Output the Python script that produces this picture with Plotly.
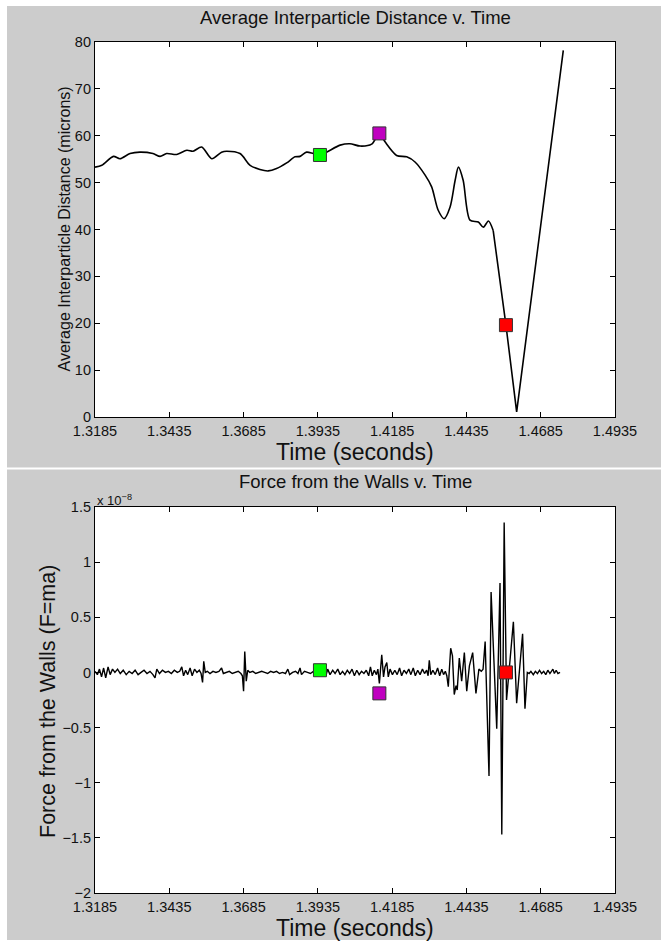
import plotly.graph_objects as go

# ---------------- data ----------------
# Top panel: average interparticle distance (microns) vs time (s)
dist_time = [1.3185, 1.3208, 1.3247, 1.3269, 1.3303, 1.3336, 1.3380, 1.3404, 1.3426, 1.3460,
             1.3494, 1.3515, 1.3544, 1.3578, 1.3611, 1.3628, 1.3673, 1.3707, 1.3740, 1.3768,
             1.3796, 1.3830, 1.3858, 1.3875, 1.3897, 1.3920, 1.3942, 1.4010, 1.4043, 1.4077,
             1.4116, 1.4142, 1.4161, 1.4200, 1.4234, 1.4262, 1.4296, 1.4318, 1.4340, 1.4360,
             1.4380, 1.4397, 1.4408, 1.4424, 1.4447, 1.4475, 1.4492, 1.4509, 1.4525,
             1.4568, 1.4604, 1.4761]
dist_value = [53.3, 53.7, 55.6, 55.1, 56.2, 56.5, 56.2, 55.6, 56.2, 56.0,
              56.9, 56.7, 57.6, 55.1, 56.5, 56.7, 56.2, 53.7, 52.8, 52.5,
              53.0, 54.2, 55.5, 55.6, 56.5, 56.2, 55.9, 58.0, 58.3, 57.8,
              58.2, 60.5, 58.7, 55.8, 55.5, 54.4, 51.6, 49.1, 44.1, 42.3,
              44.8, 50.5, 53.3, 50.5, 42.0, 41.6, 40.5, 41.8, 39.8,
              19.6, 1.1, 78.2]
dist_linear_from = 48  # index where the collapse (straight V) begins

# Bottom panel: force from the walls (units of 1e-8) vs time (s)
force_time = [1.3185, 1.3193, 1.3200, 1.3207, 1.3214, 1.3221, 1.3229, 1.3236, 1.3244, 1.3252,
              1.3261, 1.3270, 1.3280, 1.3290, 1.3300, 1.3310, 1.3320, 1.3330, 1.3340, 1.3350,
              1.3360, 1.3370, 1.3380, 1.3387, 1.3393, 1.3402, 1.3412, 1.3422, 1.3432, 1.3442,
              1.3452, 1.3462, 1.3470, 1.3477, 1.3483, 1.3490, 1.3497, 1.3505, 1.3512, 1.3520,
              1.3528, 1.3536, 1.3542, 1.3547, 1.3551, 1.3556, 1.3563, 1.3572, 1.3582, 1.3592,
              1.3602, 1.3611, 1.3617, 1.3627, 1.3637, 1.3647, 1.3657, 1.3667, 1.3676, 1.3681,
              1.3685, 1.3689, 1.3694, 1.3699, 1.3706, 1.3716, 1.3726, 1.3736, 1.3746, 1.3756,
              1.3766, 1.3776, 1.3786, 1.3796, 1.3806, 1.3816, 1.3826, 1.3834, 1.3840, 1.3850,
              1.3860, 1.3868, 1.3875, 1.3880, 1.3890, 1.3900, 1.3910, 1.3920, 1.3930, 1.3942,
              1.3950, 1.3956, 1.3962, 1.3968, 1.3976, 1.3985, 1.3993, 1.4002, 1.4010, 1.4018,
              1.4026, 1.4034, 1.4042, 1.4050, 1.4058, 1.4066, 1.4074, 1.4082, 1.4090, 1.4098,
              1.4106, 1.4112, 1.4118, 1.4125, 1.4132, 1.4137, 1.4142, 1.4150, 1.4156, 1.4161,
              1.4167, 1.4172, 1.4178, 1.4186, 1.4194, 1.4202, 1.4210, 1.4217, 1.4225, 1.4233,
              1.4241, 1.4248, 1.4256, 1.4263, 1.4271, 1.4279, 1.4287, 1.4294, 1.4301, 1.4306,
              1.4310, 1.4315, 1.4322, 1.4330, 1.4338, 1.4345, 1.4352, 1.4358, 1.4364, 1.4369,
              1.4374, 1.4382, 1.4388, 1.4394, 1.4400, 1.4404, 1.4411, 1.4419, 1.4428, 1.4436,
              1.4445, 1.4456, 1.4467, 1.4477, 1.4485, 1.4491, 1.4498, 1.4511, 1.4518, 1.4537,
              1.4548, 1.4554, 1.4562, 1.4570, 1.4580, 1.4593, 1.4604, 1.4612, 1.4624, 1.4632,
              1.4640, 1.4646, 1.4652, 1.4660, 1.4667, 1.4674, 1.4681, 1.4688, 1.4695, 1.4702,
              1.4709, 1.4716, 1.4721, 1.4726, 1.4731, 1.4737, 1.4743, 1.4750]
force_value = [0.01, -0.02, 0.03, -0.04, 0.04, -0.05, 0.05, -0.02, 0.03, 0.00,
               0.03, -0.01, 0.02, -0.02, 0.01, -0.01, 0.02, -0.02, 0.00, 0.02,
               -0.01, 0.01, -0.02, -0.05, 0.03, -0.01, 0.02, 0.00, 0.01, -0.01,
               0.02, 0.00, 0.01, 0.05, -0.03, 0.02, -0.02, 0.04, -0.03, 0.03,
               0.00, 0.02, -0.01, -0.09, 0.10, 0.00, 0.01, -0.01, 0.01, 0.00,
               0.01, 0.04, -0.01, 0.00, 0.01, -0.01, 0.00, 0.01, -0.01, -0.03,
               -0.17, 0.19, -0.08, 0.02, 0.00, 0.01, -0.01, 0.00, 0.01, 0.00,
               -0.01, 0.01, 0.00, 0.01, -0.01, 0.00, -0.01, 0.03, -0.02, 0.00,
               0.01, -0.01, 0.04, -0.02, 0.01, 0.00, -0.01, 0.01, -0.01, 0.02,
               -0.02, 0.04, -0.03, 0.03, -0.02, 0.02, -0.01, 0.03, -0.02, 0.01,
               -0.02, 0.02, -0.01, 0.03, -0.03, 0.02, -0.02, 0.01, -0.01, 0.02,
               -0.03, 0.05, -0.03, 0.02, -0.02, 0.03, -0.10, 0.16, -0.04, 0.05,
               0.09, -0.04, 0.03, -0.02, 0.02, -0.02, 0.04, -0.03, 0.02, -0.01,
               0.03, -0.02, 0.04, -0.03, 0.02, -0.02, 0.03, -0.01, 0.02, -0.03,
               0.11, -0.02, 0.02, -0.02, 0.04, -0.03, 0.03, -0.02, 0.01, -0.03,
               -0.13, 0.22, 0.15, -0.20, -0.12, -0.16, 0.13, -0.08, 0.18, -0.17,
               0.06, 0.18, -0.19, 0.03, 0.01, 0.03, 0.28, -0.94, 0.73, -0.51,
               0.81, -1.47, 1.36, -0.25, 0.05, 0.46, -0.28, 0.00, 0.35, -0.33,
               0.00, -0.01, 0.01, -0.02, 0.01, -0.01, 0.02, -0.01, 0.01, -0.02,
               0.02, -0.01, 0.01, 0.03, -0.01, 0.02, -0.01, 0.00]

# Highlighted instants (same times in both panels)
marker_time = [1.3942, 1.4142, 1.4568]
marker_dist = [55.9, 60.5, 19.6]
marker_force = [0.02, -0.19, 0.00]
marker_colors = ["#00ff00", "#c000c0", "#ff0000"]

# Axes ticks
x_ticks = [1.3185, 1.3435, 1.3685, 1.3935, 1.4185, 1.4435, 1.4685, 1.4935]
x_ticklabels = ["1.3185", "1.3435", "1.3685", "1.3935", "1.4185", "1.4435", "1.4685", "1.4935"]
dist_ticks = [0, 10, 20, 30, 40, 50, 60, 70, 80]
force_ticks = [-2, -1.5, -1, -0.5, 0, 0.5, 1, 1.5]
force_ticklabels = ["\u22122", "\u22121.5", "\u22121", "\u22120.5", "0", "0.5", "1", "1.5"]

# ---------------- layout geometry (pixels) ----------------
W, H = 663, 943
L, R, T, B = 95, 48, 42, 50
PW, PH = W - L - R, H - T - B


def px(X):
    return (X - L) / PW


def py(Y):
    return (H - B - Y) / PH


FONT = "Liberation Sans, Arial, Helvetica, sans-serif"
TXT = "#111111"
GRAY = "#cccccc"
BOT_TOP = 507

fig = go.Figure()

# top panel line (smooth part + straight collapse)
fig.add_trace(go.Scatter(x=dist_time[:dist_linear_from + 1], y=dist_value[:dist_linear_from + 1],
                         mode="lines", line=dict(color="black", width=1.6, shape="spline", smoothing=0.8),
                         xaxis="x", yaxis="y", showlegend=False, hoverinfo="skip"))
fig.add_trace(go.Scatter(x=dist_time[dist_linear_from:], y=dist_value[dist_linear_from:],
                         mode="lines", line=dict(color="black", width=1.6),
                         xaxis="x", yaxis="y", showlegend=False, hoverinfo="skip"))
fig.add_trace(go.Scatter(x=marker_time, y=marker_dist, mode="markers",
                         marker=dict(symbol="square", size=13, color=marker_colors,
                                     line=dict(color="#333333", width=1)),
                         xaxis="x", yaxis="y", showlegend=False))

# bottom panel
fig.add_trace(go.Scatter(x=force_time, y=force_value, mode="lines",
                         line=dict(color="black", width=1.4),
                         xaxis="x2", yaxis="y2", showlegend=False, hoverinfo="skip"))
fig.add_trace(go.Scatter(x=marker_time, y=marker_force, mode="markers",
                         marker=dict(symbol="square", size=13, color=marker_colors,
                                     line=dict(color="#333333", width=1)),
                         xaxis="x2", yaxis="y2", showlegend=False))

axis_common = dict(showline=True, linecolor="black", linewidth=1.2, mirror="ticks",
                   ticks="inside", ticklen=5, tickcolor="black", tickwidth=1,
                   showgrid=False, zeroline=False,
                   tickfont=dict(family=FONT, size=14.5, color=TXT))

fig.update_layout(
    width=W, height=H, autosize=False,
    margin=dict(l=L, r=R, t=T, b=B, pad=0),
    paper_bgcolor=GRAY, plot_bgcolor="white",
    xaxis=dict(domain=[0, 1], range=[x_ticks[0], x_ticks[-1]], anchor="y",
               tickvals=x_ticks, ticktext=x_ticklabels, **axis_common),
    yaxis=dict(domain=[py(417), 1], range=[dist_ticks[0], dist_ticks[-1]], anchor="x",
               tickvals=dist_ticks, **axis_common),
    xaxis2=dict(domain=[0, 1], range=[x_ticks[0], x_ticks[-1]], anchor="y2",
                tickvals=x_ticks, ticktext=x_ticklabels, **axis_common),
    yaxis2=dict(domain=[0, py(BOT_TOP)], range=[force_ticks[0], force_ticks[-1]], anchor="x2",
                tickvals=force_ticks, ticktext=force_ticklabels, **axis_common),
)

ann = [
    dict(text="Average Interparticle Distance v. Time", x=0.5, y=py(18), size=18.5),
    dict(text="Time (seconds)", x=0.5, y=py(452), size=23),
    dict(text="Average Interparticle Distance (microns)", x=px(64), y=(py(42) + py(417)) / 2,
         size=16, angle=-90),
    dict(text="Force from the Walls v. Time", x=0.5, y=py(481), size=18.5),
    dict(text="Time (seconds)", x=0.5, y=py(928), size=23),
    dict(text="Force from the Walls (F=ma)", x=px(48), y=py(702),
         size=21.5, angle=-90),
]
for a in ann:
    fig.add_annotation(text=a["text"], x=a["x"], y=a["y"], xref="paper", yref="paper",
                       xanchor="center", yanchor="middle", showarrow=False,
                       textangle=a.get("angle", 0),
                       font=dict(family=FONT, size=a["size"], color=TXT))

fig.add_annotation(text="x 10<sup>\u22128</sup>", x=0, y=py(510), xref="paper", yref="paper",
                   xanchor="left", yanchor="bottom", showarrow=False,
                   font=dict(family=FONT, size=13, color=TXT))

# white frame and separator between the two panels
strips = [
    (0, 0, 7, H),          # left
    (661, 0, W, H),        # right
    (0, 0, W, 6),          # top
    (0, 940, W, H),        # bottom
    (0, 467.5, W, 469.5),  # separator
]
for (x0, y0, x1, y1) in strips:
    fig.add_shape(type="rect", xref="paper", yref="paper",
                  x0=px(x0), x1=px(x1), y0=py(y1), y1=py(y0),
                  line=dict(width=0), fillcolor="white", layer="above")

fig.write_html("out.html", config={"displayModeBar": False},
               post_script="document.body.style.margin='0';")
